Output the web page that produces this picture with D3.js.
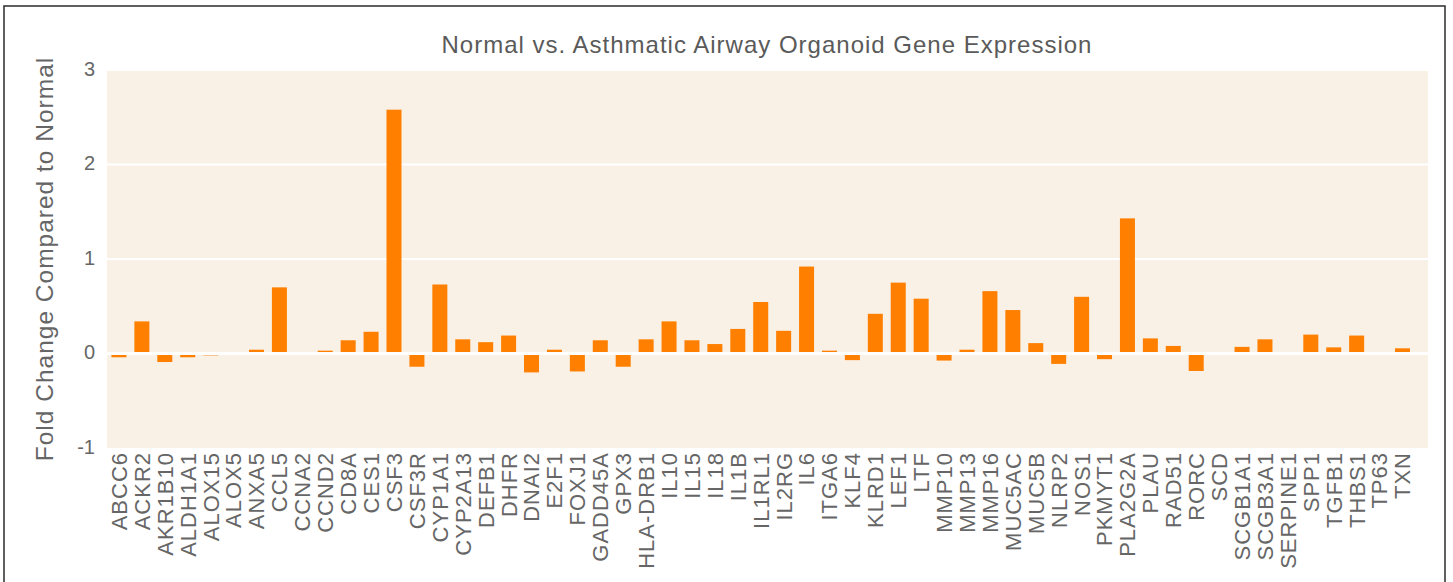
<!DOCTYPE html>
<html><head><meta charset="utf-8">
<script src="https://cdn.jsdelivr.net/npm/d3@7"></script>
<style>
body{margin:0;background:#fff}
svg{display:block}
text{font-family:"Liberation Sans",Arial,Helvetica,sans-serif}
</style></head>
<body><svg id="chart" width="1453" height="582"></svg>
<script>
const categories = ["ABCC6","ACKR2","AKR1B10","ALDH1A1","ALOX15","ALOX5","ANXA5","CCL5","CCNA2","CCND2","CD8A","CES1","CSF3","CSF3R","CYP1A1","CYP2A13","DEFB1","DHFR","DNAI2","E2F1","FOXJ1","GADD45A","GPX3","HLA-DRB1","IL10","IL15","IL18","IL1B","IL1RL1","IL2RG","IL6","ITGA6","KLF4","KLRD1","LEF1","LTF","MMP10","MMP13","MMP16","MUC5AC","MUC5B","NLRP2","NOS1","PKMYT1","PLA2G2A","PLAU","RAD51","RORC","SCD","SCGB1A1","SCGB3A1","SERPINE1","SPP1","TGFB1","THBS1","TP63","TXN"];
const foldChange = [-0.04,0.34,-0.09,-0.04,-0.02,0.01,0.04,0.70,0.0,0.03,0.14,0.23,2.58,-0.14,0.73,0.15,0.12,0.19,-0.20,0.04,-0.19,0.14,-0.14,0.15,0.34,0.14,0.10,0.26,0.545,0.24,0.92,0.03,-0.07,0.42,0.75,0.58,-0.075,0.04,0.66,0.46,0.11,-0.11,0.60,-0.06,1.43,0.16,0.08,-0.185,0.0,0.07,0.15,0.0,0.20,0.065,0.19,0.0,0.055];
const yTicks = [-1,0,1,2,3];
const titleText = "Normal vs. Asthmatic Airway Organoid Gene Expression";
const yTitleText = "Fold Change Compared to Normal";

const svg = d3.select("#chart");
const plot = {left:107, right:1428, top:70, bottom:448};
const step = 22.92;

// outer frame
svg.append("rect").attr("x",4).attr("y",6).attr("width",1441).attr("height",620)
  .attr("fill","none").attr("stroke","#2b2b2b").attr("stroke-width",1.5);

// background
svg.append("rect").attr("x",plot.left).attr("y",plot.top)
  .attr("width",plot.right-plot.left).attr("height",plot.bottom-plot.top)
  .attr("fill","#f9f0e6");

const x = d3.scaleBand().domain(categories)
  .range([plot.left+0.5, plot.left+0.5+step*categories.length])
  .paddingInner(0.345).paddingOuter(0.1725);
const y = d3.scaleLinear().domain([-1,3]).range([plot.bottom, plot.top]);

// gridlines
svg.append("g").selectAll("line").data(yTicks.filter(d=>d!==0 && d!==-1)).join("line")
  .attr("x1",plot.left).attr("x2",plot.right)
  .attr("y1",d=>y(d)).attr("y2",d=>y(d))
  .attr("stroke","#ffffff").attr("stroke-width",2);

// bars
svg.append("g").selectAll("rect").data(categories).join("rect")
  .attr("x",d=>x(d))
  .attr("width",x.bandwidth())
  .attr("y",(d,i)=>y(Math.max(0,foldChange[i])))
  .attr("height",(d,i)=>Math.abs(y(foldChange[i])-y(0)))
  .attr("fill","#ff8000");

// zero line
svg.append("line").attr("x1",plot.left).attr("x2",plot.right)
  .attr("y1",y(0)).attr("y2",y(0)).attr("stroke","#ffffff").attr("stroke-width",3);

// y axis tick labels
const yAxis = d3.axisLeft(y).tickValues(yTicks).tickSize(0).tickPadding(0).tickFormat(d=>String(d));
const gy = svg.append("g").attr("transform",`translate(95,-1)`).call(yAxis);
gy.select(".domain").remove();
gy.selectAll("text").attr("font-size",20).attr("fill","#666")
  .attr("font-family",'"Liberation Sans",Arial,sans-serif');

// x axis labels
const xAxis = d3.axisBottom(x).tickSize(0).tickPadding(0);
const gx = svg.append("g").attr("transform",`translate(0,${plot.bottom+4})`).call(xAxis);
gx.select(".domain").remove();
gx.selectAll("text").attr("font-size",22).attr("fill","#666")
  .attr("letter-spacing","1px")
  .attr("font-family",'"Liberation Sans",Arial,sans-serif')
  .attr("transform","rotate(-90)")
  .attr("text-anchor","end").attr("x",0).attr("y",0).attr("dy","0.36em");

// title
svg.append("text").attr("x",767).attr("y",53).attr("text-anchor","middle")
  .attr("letter-spacing","1px")
  .attr("font-size",24).attr("fill","#5a5a5a").text(titleText);

// y title
svg.append("text").attr("transform",`translate(53,${(plot.top+plot.bottom)/2}) rotate(-90)`)
  .attr("text-anchor","middle").attr("letter-spacing","1px")
  .attr("font-size",24.5).attr("fill","#666").text(yTitleText);
</script>
</body></html>
